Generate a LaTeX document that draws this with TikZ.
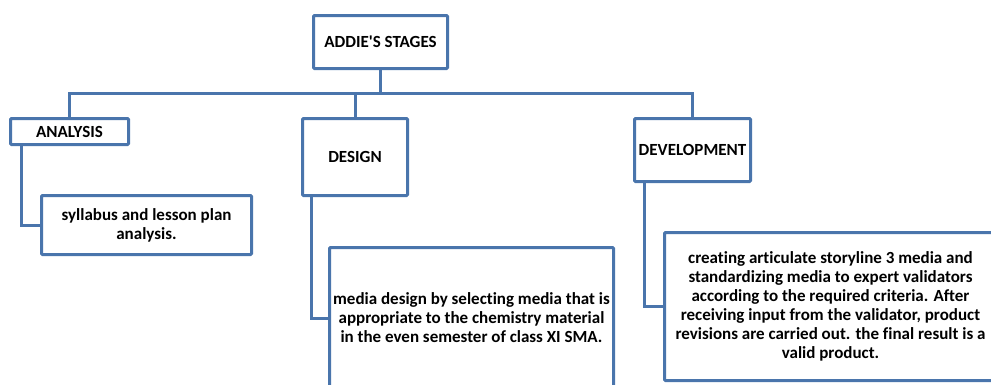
\documentclass[tikz,border=0pt]{standalone}
\usepackage{fontspec}
\setmainfont{Carlito}[Ligatures={NoCommon,NoContextual}]
\definecolor{lineblue}{HTML}{4A75AC}
\tikzset{
  box/.style={draw=lineblue, line width=3pt, rounded corners=1pt, fill=white, inner sep=0pt,
    font=\fontsize{17}{19}\selectfont\bfseries, align=center, text=black},
  conn/.style={draw=lineblue, line width=3pt}
}
\begin{document}
\begin{tikzpicture}[x=1pt,y=-1pt]
\path[use as bounding box, clip] (0,0) rectangle (991,384);
\coordinate (bus) at (0,93);
\node[box, minimum width=134pt, minimum height=53pt] (top) at (380.5,42) {ADDIE\textquotesingle S STAGES};
\node[box, minimum width=118pt, minimum height=26pt] (ana) at (69.5,131.5) {ANALYSIS};
\node[box, minimum width=105pt, minimum height=77pt] (des) at (355,157) {DESIGN};
\node[box, minimum width=116pt, minimum height=63pt] (dev) at (692.5,150) {DEVELOPMENT};
\node[box, minimum width=210pt, minimum height=59pt] (c1) at (146.5,225) {syllabus and lesson plan\\analysis.};
\node[box, minimum width=284pt, minimum height=141pt] (c2) at (471.5,318) {media design by selecting media that is\\appropriate to the chemistry material\\in the even semester of class XI SMA.};
\node[box, minimum width=332pt, minimum height=148pt] (c3) at (830.5,306.5) {creating articulate storyline 3 media and\\standardizing media to expert validators\\according to the required criteria. After\\receiving input from the validator, product\\revisions are carried out. the final result is a\\valid product.};
\draw[conn] (ana.north) -- (ana.north |- bus) -- (dev.north |- bus) -- (dev.north);
\draw[conn] (top.south) -- (top.south |- bus);
\draw[conn] (des.north) -- (des.north |- bus);
\draw[conn] ([xshift=12pt]ana.south west) |- (c1.west);
\draw[conn] ([xshift=10pt]des.south west) |- (c2.west);
\draw[conn] ([xshift=11pt]dev.south west) |- (c3.west);
\end{tikzpicture}
\end{document}
